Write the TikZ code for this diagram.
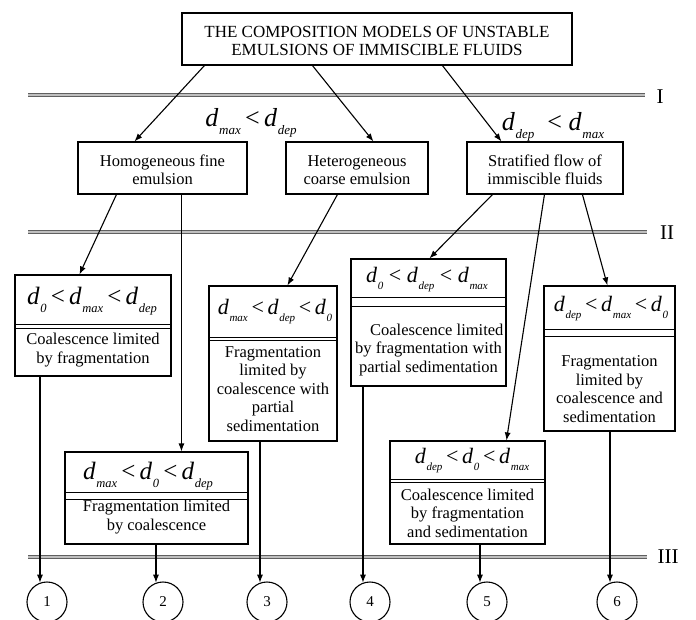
\documentclass[tikz,border=0pt]{standalone}
\usepackage{fontspec}
\setmainfont{Liberation Serif}
\usetikzlibrary{arrows.meta}
\makeatletter
\newcommand{\dv}[1]{\textit{d}\kern0.03em\raisebox{-0.32em}{\fontsize{\fpeval{0.5*\f@size}}{\fpeval{0.6*\f@size}}\selectfont\textit{#1}}}
\makeatother
\tikzset{
  box/.style={draw, line width=1.1pt, rectangle, inner sep=0pt},
  divl/.style={line width=1.1pt},
  txt/.style={align=center, inner sep=0pt, font=\fontsize{16.5}{18.5}\selectfont},
  ftxt/.style={inner sep=0pt, font=\fontsize{22}{26}\selectfont},
  bigf/.style={inner sep=0pt, font=\fontsize{25}{29}\selectfont},
  arr/.style={line width=1.1pt, -{Latex[length=8pt,width=6pt]}},
  sepline/.style={draw=gray!75!black, double=gray!50, double distance=1.2pt, line width=1.1pt},
  lvl/.style={inner sep=0pt, font=\fontsize{21}{24}\selectfont},
  num/.style={draw, circle, line width=1.1pt, minimum size=40pt, inner sep=0pt, font=\fontsize{15}{18}\selectfont}
}
\begin{document}
\begin{tikzpicture}[x=1pt,y=-1pt]
\useasboundingbox (0,0) rectangle (696,619);
% level separators
\coordinate (l1a) at (28,95);  \coordinate (l1b) at (645,95);
\coordinate (l2a) at (28,232); \coordinate (l2b) at (647,232);
\coordinate (l3a) at (28,557); \coordinate (l3b) at (647,557);
\draw[sepline] (l1a) -- (l1b);
\draw[sepline] (l2a) -- (l2b);
\draw[sepline] (l3a) -- (l3b);
\node[lvl] (lI) at (660,97) {I};
\node[lvl] (lII) at (667,233) {II};
\node[lvl] (lIII) at (668,557) {III};

% top box
\node[box, minimum width=390pt, minimum height=52pt] (T) at (377,39) {};
\node[txt, font=\fontsize{17}{18.5}\selectfont] (Tt) at (377,41) {THE COMPOSITION MODELS OF UNSTABLE\\EMULSIONS OF IMMISCIBLE FLUIDS};

% second level
\node[box, minimum width=169pt, minimum height=52pt] (H) at (162.5,168) {};
\node[txt] (Ht) at (162.5,170) {Homogeneous fine\\emulsion};
\node[box, minimum width=142pt, minimum height=52pt] (He) at (357,168) {};
\node[txt] (Het) at (357,170) {Heterogeneous\\coarse emulsion};
\node[box, minimum width=156pt, minimum height=52pt] (S) at (545,168) {};
\node[txt] (St) at (545,170) {Stratified flow of\\immiscible fluids};

\node[bigf, font=\fontsize{26}{30}\selectfont] (c1) at (251,123) {\dv{max}\,<\,\dv{dep}};
\node[bigf, font=\fontsize{26}{30}\selectfont] (c2) at (553,127) {\dv{dep}~~<~\dv{max}};

% box 1
\node[box, minimum width=156pt, minimum height=101pt] (b1) at (93,325.5) {};
\draw[divl] ([yshift=-50pt]b1.north west) -- ([yshift=-50pt]b1.north east);
\draw[divl] ([yshift=-54pt]b1.north west) -- ([yshift=-54pt]b1.north east);
\node[bigf] (f1) at (92,301) {\dv{0}\,<\,\dv{max}\,<\,\dv{dep}};
\node[txt] (t1) at (93,350) {Coalescence limited\\by fragmentation};

% box 3
\node[box, minimum width=128pt, minimum height=155pt] (b3) at (273,363.5) {};
\draw[divl] ([yshift=-52pt]b3.north west) -- ([yshift=-52pt]b3.north east);
\draw[divl] ([yshift=-55pt]b3.north west) -- ([yshift=-55pt]b3.north east);
\node[ftxt] (f3) at (275,312) {\dv{max}\,<\,\dv{dep}\,<\,\dv{0}};
\node[txt] (t3) at (273,389) {Fragmentation\\limited by\\coalescence with\\partial\\sedimentation};

% box 4
\node[box, minimum width=155pt, minimum height=127pt] (b4) at (428.5,322.5) {};
\draw[divl] ([yshift=-39pt]b4.north west) -- ([yshift=-39pt]b4.north east);
\draw[divl] ([yshift=-48pt]b4.north west) -- ([yshift=-48pt]b4.north east);
\node[ftxt] (f4) at (427,280) {\dv{0}~<~\dv{dep}~<~\dv{max}};
\node[txt] (t4) at (428.5,350) {\quad Coalescence limited\\by fragmentation with\\partial sedimentation};

% box 6
\node[box, minimum width=131pt, minimum height=145pt] (b6) at (609.5,358.5) {};
\draw[divl] ([yshift=-44pt]b6.north west) -- ([yshift=-44pt]b6.north east);
\draw[divl] ([yshift=-51pt]b6.north west) -- ([yshift=-51pt]b6.north east);
\node[ftxt] (f6) at (611,309) {\dv{dep}\,<\,\dv{max}\,<\,\dv{0}};
\node[txt] (t6) at (609.5,389) {Fragmentation\\limited by\\coalescence and\\sedimentation};

% box 2
\node[box, minimum width=183pt, minimum height=92pt] (b2) at (156.5,498) {};
\draw[divl] ([yshift=-41pt]b2.north west) -- ([yshift=-41pt]b2.north east);
\draw[divl] ([yshift=-48pt]b2.north west) -- ([yshift=-48pt]b2.north east);
\node[bigf] (f2) at (148,476) {\dv{max}\,<\,\dv{0}\,<\,\dv{dep}};
\node[txt] (t2) at (156.5,517) {Fragmentation limited\\by coalescence};

% box 5
\node[box, minimum width=155pt, minimum height=103pt] (b5) at (467.5,492.5) {};
\draw[divl] ([yshift=-39pt]b5.north west) -- ([yshift=-39pt]b5.north east);
\draw[divl] ([yshift=-42pt]b5.north west) -- ([yshift=-42pt]b5.north east);
\node[ftxt] (f5) at (472,461) {\dv{dep}\,<\,\dv{0}\,<\,\dv{max}};
\node[txt] (t5) at (467.5,513) {Coalescence limited\\by fragmentation\\and sedimentation};

% circles
\node[num] (n1) at (47,602) {1};
\node[num] (n2) at (163,602) {2};
\node[num] (n3) at (267,602) {3};
\node[num] (n4) at (370,602) {4};
\node[num] (n5) at (487,602) {5};
\node[num] (n6) at (617,602) {6};

% arrows from top
\draw[arr] ([xshift=23pt]T.south west) -- ([xshift=57pt]H.north west);
\draw[arr] ([xshift=131pt]T.south west) -- ([xshift=88pt]He.north west);
\draw[arr] ([xshift=261pt]T.south west) -- ([xshift=35pt]S.north west);
% second level to boxes
\draw[arr] ([xshift=39pt]H.south west) -- ([xshift=65pt]b1.north west);
\draw[arr] ([xshift=104pt]H.south west) -- ([xshift=117pt]b2.north west);
\draw[arr] ([xshift=52pt]He.south west) -- ([xshift=79pt]b3.north west);
\draw[arr] ([xshift=26pt]S.south west) -- ([xshift=79pt]b4.north west);
\draw[arr] ([xshift=78pt]S.south west) -- ([xshift=117pt]b5.north west);
\draw[arr] ([xshift=116pt]S.south west) -- ([xshift=64pt]b6.north west);
% boxes to circles
\draw[arr] (b1.south -| n1.110) -- (n1.110);
\draw[arr] (b2.south -| n2.110) -- (n2.110);
\draw[arr] (b3.south -| n3.110) -- (n3.110);
\draw[arr] (b4.south -| n4.110) -- (n4.110);
\draw[arr] (b5.south -| n5.110) -- (n5.110);
\draw[arr] (b6.south -| n6.110) -- (n6.110);
\end{tikzpicture}
\end{document}
